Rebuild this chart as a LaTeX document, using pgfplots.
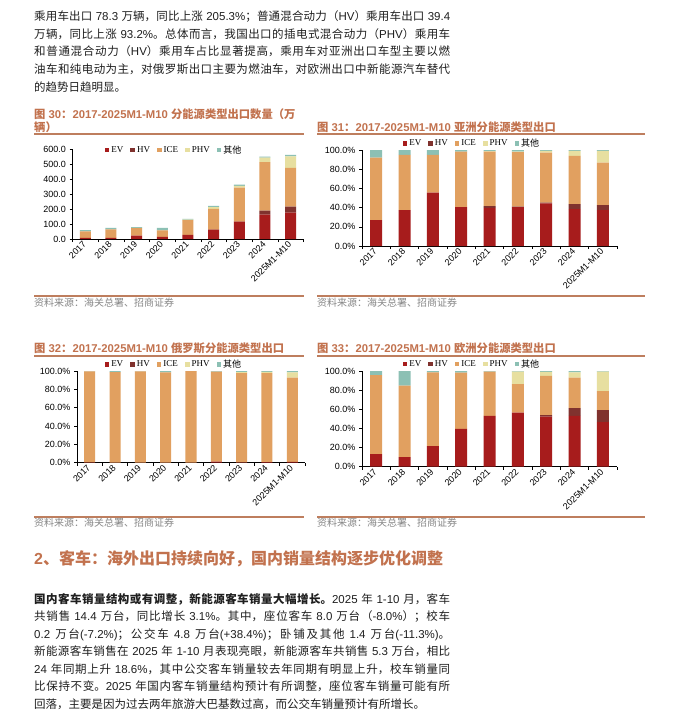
\documentclass[border=0pt]{standalone}
\usepackage{pgfplots}
\pgfplotsset{compat=1.18}
\usepackage{pgfplotstable}
\usepackage{fontspec}
\setmainfont{Liberation Sans}
\newfontfamily\cjkf{Noto Sans CJK SC}
\newfontfamily\latf{Liberation Sans}
\newfontfamily\serifL{Liberation Serif}
\newcount\cc
\cc="4E00 \loop \XeTeXcharclass\cc=1 \advance\cc by 1 \ifnum\cc<"A000 \repeat
\cc="3000 \loop \XeTeXcharclass\cc=1 \advance\cc by 1 \ifnum\cc<"3040 \repeat
\cc="FF00 \loop \XeTeXcharclass\cc=1 \advance\cc by 1 \ifnum\cc<"FF60 \repeat
\XeTeXlinebreaklocale "zh"
\XeTeXlinebreakskip=0pt plus 1.5pt
\XeTeXinterchartokenstate=1
\XeTeXinterchartoks 0 1 = {\cjkf}
\XeTeXinterchartoks 4095 1 = {\cjkf}
\XeTeXinterchartoks 1 0 = {\latf}
\XeTeXinterchartoks 1 4095 = {\latf}

\definecolor{evc}{RGB}{167,28,28}
\definecolor{hvc}{RGB}{128,50,46}
\definecolor{icec}{RGB}{225,160,96}
\definecolor{phvc}{RGB}{231,223,160}
\definecolor{othc}{RGB}{140,192,180}
\definecolor{titc}{RGB}{194,114,78}
\definecolor{rulec}{RGB}{190,126,94}
\definecolor{srcc}{RGB}{135,135,135}

\newcommand\tickf{\latf\fontsize{9}{10}\selectfont}
\newcommand\legf{\fontsize{9}{10}\selectfont}

\pgfplotsset{
  mybar/.style={fill=#1, draw=none,
    legend image code/.code={\fill[fill=#1] (0pt,-2.3pt) rectangle (4.6pt,2.3pt);}},
  mychart/.style={
    scale only axis, ybar stacked,
    axis x line*=bottom, axis y line*=left,
    axis line style={-, black, line width=0.7pt},
    xmin=-0.5, xmax=8.5, xtick={0,...,8},
    xticklabels={2017,2018,2019,2020,2021,2022,2023,2024,2025M1-M10},
    minor xtick={-0.5,0.5,...,8.5},
    tick align=outside, major tick length=3pt, minor tick length=3pt,
    major x tick style={draw=none},
    minor x tick style={black, line width=0.6pt},
    y tick style={black, line width=0.6pt},
    xticklabel style={rotate=45, anchor=east, font=\tickf, inner sep=1pt},
    yticklabel style={font=\tickf},
    /pgf/number format/assume math mode=true,
    legend columns=5,
    legend style={draw=none, fill=none, font=\legf, inner sep=0pt,
      /tikz/every even column/.append style={column sep=5pt}},
    clip=false,
  },
  pctchart/.style={ymin=0, ymax=100, ytick={0,20,...,100},
    yticklabel={\pgfmathprintnumber[fixed,fixed zerofill,precision=1]{\tick}\%}},
}

\pgfplotstableread{
x ev hv ice phv oth
0 7 0 44 0 9
1 7 0 58 0 9
2 22 0 51 1 6
3 15 0 42 1 16
4 27 0 100 3 4
5 62 1 138 13 7
6 116 1 226 13 7
7 163 27 325 29 7
8 176 40 259 78 9
}\tAll

\pgfplotstableread{
x ev hv ice phv oth
0 27 0 65 0 8
1 37.5 0 57.3 0 5.2
2 55.5 0 39.3 0 5.2
3 40.6 0 57.7 0 1.7
4 39.6 2.0 56.7 0.5 1.2
5 40.6 0.3 57.0 0.5 1.6
6 44.4 0.7 52.1 1.8 1.0
7 38.5 5.2 50.3 5.0 1.0
8 37.5 5.2 44.1 12.2 1.0
}\tAsia

\pgfplotstableread{
x ev hv ice phv oth
0 0.3 0 99.2 0 0.5
1 0.2 0 98.7 0 1.1
2 0.2 0 99.4 0 0.4
3 0.2 0 98.3 0 1.5
4 0.2 0 99.6 0 0.2
5 1.1 0 98.2 0 0.7
6 0.3 0 97.5 1.0 1.2
7 0.5 0 97.3 1.2 1.0
8 1.0 0 91.7 5.8 1.5
}\tRus

\pgfplotstableread{
x ev hv ice phv oth
0 13.2 0 82.6 0 4.2
1 10.1 0 74.6 0 15.3
2 21.6 0 77.0 0 1.4
3 39.4 0 58.9 0 1.7
4 53.0 0 46.3 0 0.7
5 56.4 0 30.0 12.9 0.7
6 52.3 1.7 40.8 4.2 1.0
7 53.0 8.3 31.7 5.6 1.4
8 46.7 12.5 19.9 20.2 0.7
}\tEur

\newcommand\fiveplots[1]{%
  \addplot[mybar=evc] table[x=x,y=ev]{#1};
  \addplot[mybar=hvc] table[x=x,y=hv]{#1};
  \addplot[mybar=icec] table[x=x,y=ice]{#1};
  \addplot[mybar=phvc] table[x=x,y=phv]{#1};
  \addplot[mybar=othc] table[x=x,y=oth]{#1};
  \addlegendentry{\serifL EV}
  \addlegendentry{\serifL HV}
  \addlegendentry{\serifL ICE}
  \addlegendentry{\serifL PHV}
  \addlegendentry{其他}
}

\begin{document}
\begin{tikzpicture}
\path[use as bounding box, fill=white] (0pt,0pt) rectangle (675pt,-719pt);

% top paragraph
\node[anchor=base west, inner sep=0pt, text width=416pt, align=justify,
  font=\fontsize{11.5}{17.8}\selectfont, text=black!88] at (34pt,-20.4pt)
{乘用车出口 78.3 万辆，同比上涨 205.3\%；普通混合动力（HV）乘用车出口 39.4\linebreak
万辆，同比上涨 93.2\%。总体而言，我国出口的插电式混合动力（PHV）乘用车\linebreak
和普通混合动力（HV）乘用车占比显著提高，乘用车对亚洲出口车型主要以燃\linebreak
油车和纯电动为主，对俄罗斯出口主要为燃油车，对欧洲出口中新能源汽车替代\linebreak
的趋势日趋明显。};

% titles
\node[anchor=west, inner sep=0pt, text=titc, font=\bfseries\fontsize{11.3}{12}\selectfont] at (34pt,-114pt) {图 30：2017-2025M1-M10 分能源类型出口数量（万};
\node[anchor=west, inner sep=0pt, text=titc, font=\bfseries\fontsize{11.3}{12}\selectfont] at (34pt,-127pt) {辆）};
\node[anchor=west, inner sep=0pt, text=titc, font=\bfseries\fontsize{11.3}{12}\selectfont] at (317pt,-127pt) {图 31：2017-2025M1-M10 亚洲分能源类型出口};
\node[anchor=west, inner sep=0pt, text=titc, font=\bfseries\fontsize{11.3}{12}\selectfont] at (34pt,-348pt) {图 32：2017-2025M1-M10 俄罗斯分能源类型出口};
\node[anchor=west, inner sep=0pt, text=titc, font=\bfseries\fontsize{11.3}{12}\selectfont] at (317pt,-348pt) {图 33：2017-2025M1-M10 欧洲分能源类型出口};

\draw[rulec, line width=2pt] (34pt,-134pt) -- (304pt,-134pt);
\draw[rulec, line width=2pt] (317pt,-134pt) -- (645pt,-134pt);
\draw[rulec, line width=2pt] (34pt,-356pt) -- (304pt,-356pt);
\draw[rulec, line width=2pt] (317pt,-356pt) -- (645pt,-356pt);
\draw[rulec, line width=1.6pt] (34pt,-296pt) -- (304pt,-296pt);
\draw[rulec, line width=1.6pt] (317pt,-296pt) -- (645pt,-296pt);
\draw[rulec, line width=1.6pt] (34pt,-517pt) -- (304pt,-517pt);
\draw[rulec, line width=1.6pt] (317pt,-517pt) -- (645pt,-517pt);

\node[anchor=west, inner sep=0pt, text=srcc, font=\fontsize{10}{12}\selectfont] at (34pt,-303pt) {资料来源：海关总署、招商证券};
\node[anchor=west, inner sep=0pt, text=srcc, font=\fontsize{10}{12}\selectfont] at (317pt,-303pt) {资料来源：海关总署、招商证券};
\node[anchor=west, inner sep=0pt, text=srcc, font=\fontsize{10}{12}\selectfont] at (34pt,-523pt) {资料来源：海关总署、招商证券};
\node[anchor=west, inner sep=0pt, text=srcc, font=\fontsize{10}{12}\selectfont] at (317pt,-523pt) {资料来源：海关总署、招商证券};

% chart 30
\begin{axis}[mychart, at={(72.5pt,-239pt)}, anchor=south west, width=231pt, height=89.7pt,
  ymin=0, ymax=600, ytick={0,100,...,600}, bar width=11pt,
  yticklabel style={/pgf/number format/fixed, /pgf/number format/fixed zerofill, /pgf/number format/precision=1},
  legend style={at={(0.44,0.992)}, anchor=center}]
\fiveplots{\tAll}
\end{axis}

% chart 31
\begin{axis}[mychart, pctchart, at={(362pt,-246pt)}, anchor=south west, width=255pt, height=96pt,
  bar width=12pt, legend style={at={(0.431,1.068)}, anchor=center}]
\fiveplots{\tAsia}
\end{axis}

% chart 32
\begin{axis}[mychart, pctchart, at={(77pt,-462.7pt)}, anchor=south west, width=228pt, height=91.7pt,
  bar width=11pt, legend style={at={(0.425,1.069)}, anchor=center}]
\fiveplots{\tRus}
\end{axis}

% chart 33
\begin{axis}[mychart, pctchart, at={(362pt,-466.7pt)}, anchor=south west, width=255pt, height=95.7pt,
  bar width=12pt, legend style={at={(0.431,1.073)}, anchor=center}]
\fiveplots{\tEur}
\end{axis}

% heading
\node[anchor=west, inner sep=0pt, text=titc, font=\bfseries\fontsize{16}{18}\selectfont] at (34pt,-559pt) {2、客车：海外出口持续向好，国内销量结构逐步优化调整};

% bottom paragraph
\node[anchor=base west, inner sep=0pt, text width=416pt, align=justify,
  font=\fontsize{11.5}{17.5}\selectfont, text=black!88] at (34pt,-603.4pt)
{{\bfseries 国内客车销量结构或有调整，新能源客车销量大幅增长。}2025 年 1-10 月，客车\linebreak
共销售 14.4 万台，同比增长 3.1\%。其中，座位客车 8.0 万台（-8.0\%）；校车\linebreak
0.2 万台(-7.2\%)；公交车 4.8 万台(+38.4\%)；卧铺及其他 1.4 万台(-11.3\%)。\linebreak
新能源客车销售在 2025 年 1-10 月表现亮眼，新能源客车共销售 5.3 万台，相比\linebreak
24 年同期上升 18.6\%，其中公交客车销量较去年同期有明显上升，校车销量同\linebreak
比保持不变。2025 年国内客车销量结构预计有所调整，座位客车销量可能有所\linebreak
回落，主要是因为过去两年旅游大巴基数过高，而公交车销量预计有所增长。};

\end{tikzpicture}
\end{document}
